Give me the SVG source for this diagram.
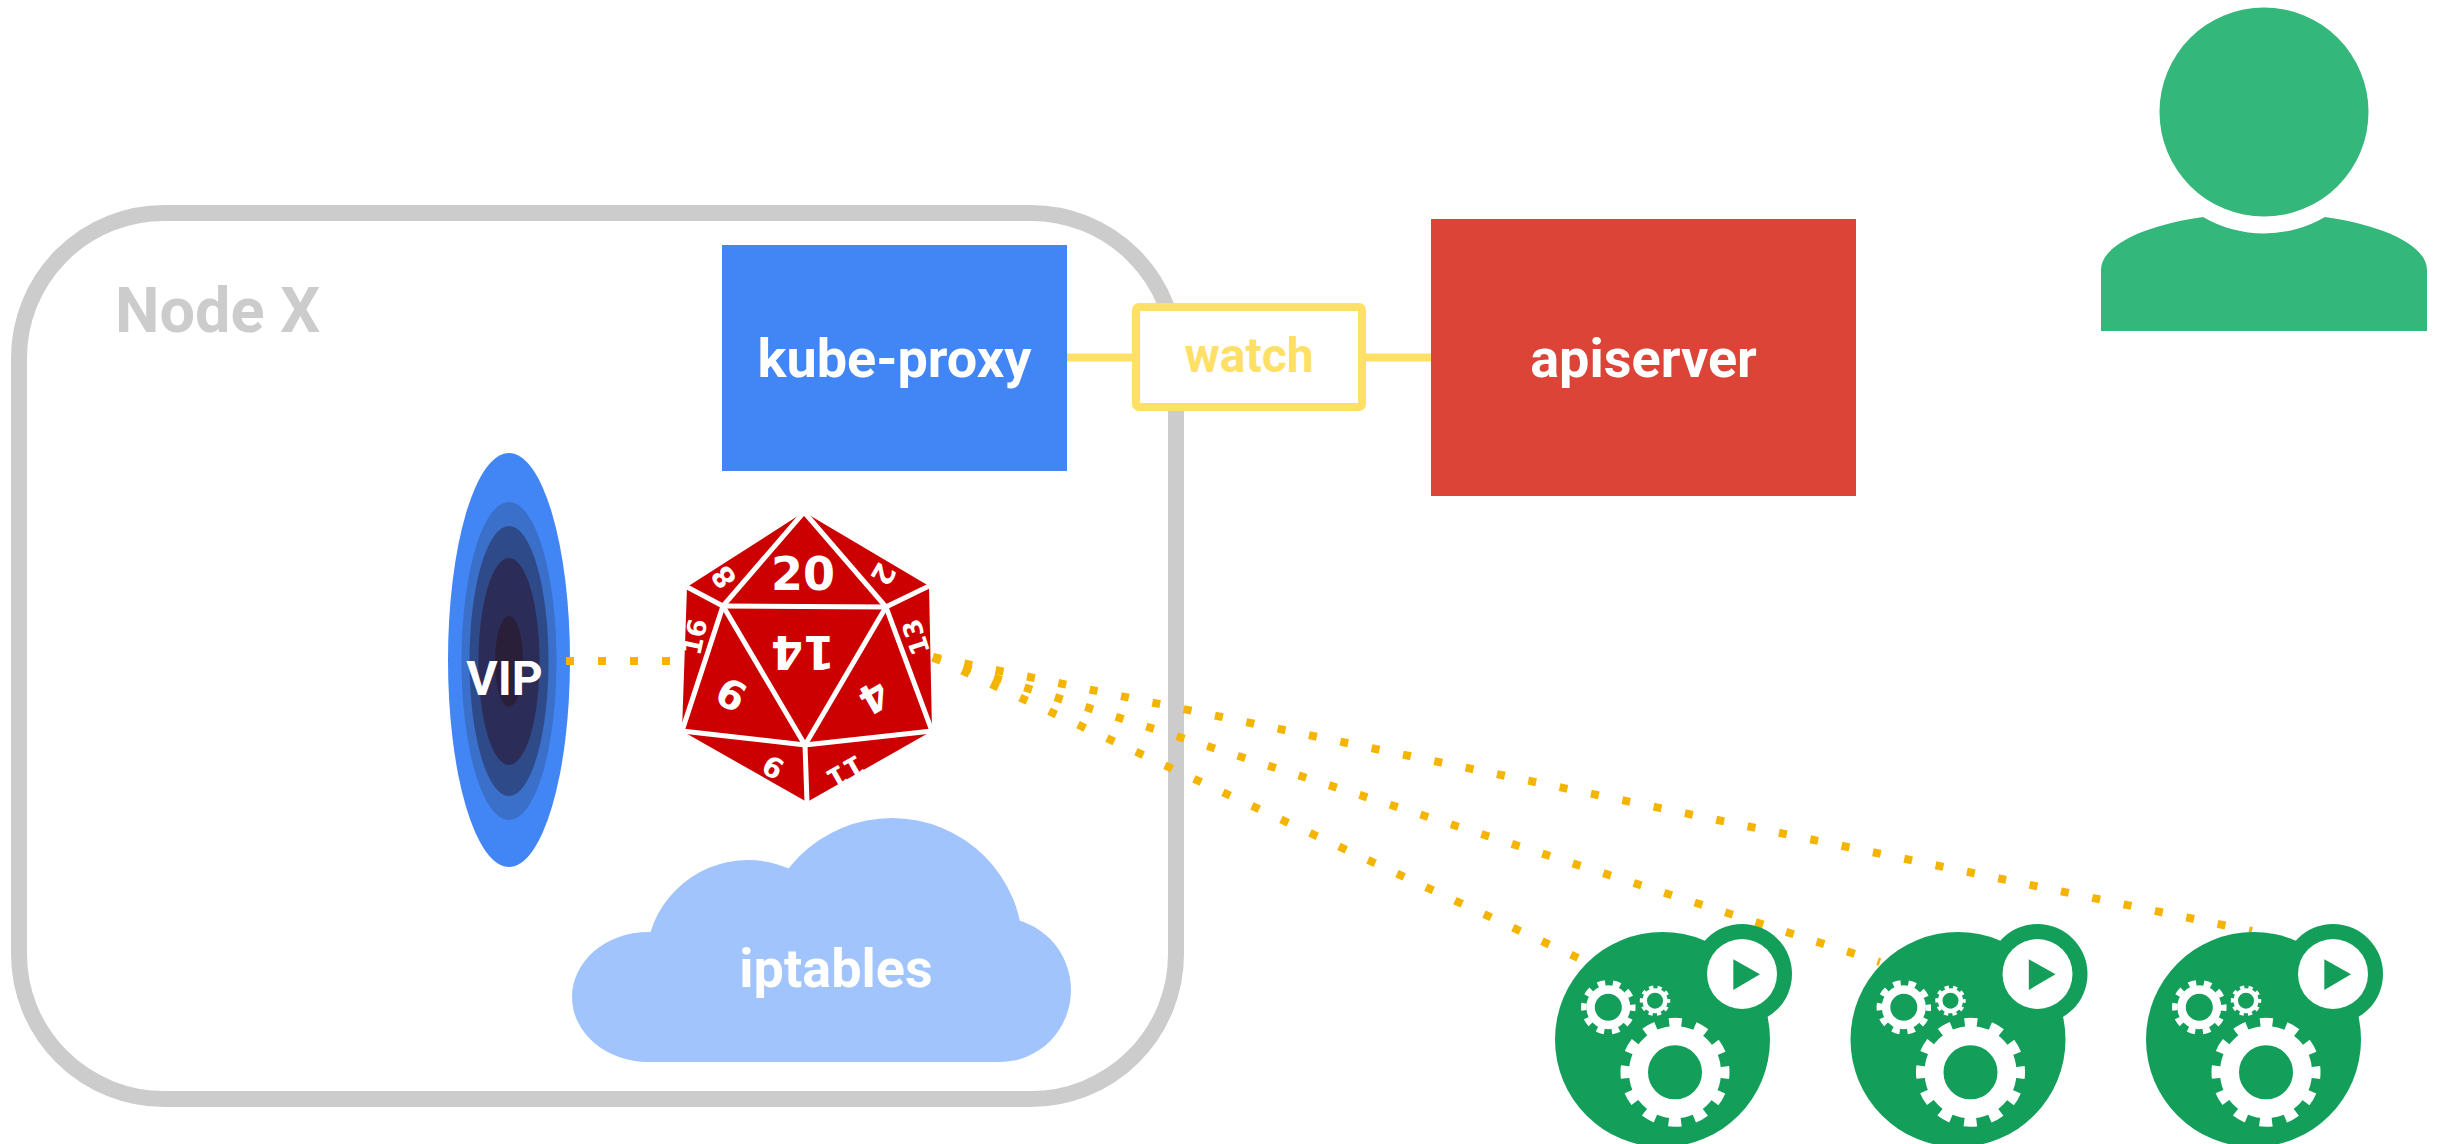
<svg xmlns="http://www.w3.org/2000/svg" width="2449" height="1144" viewBox="0 0 2449 1144">
  <style>
    .label { font-family: Roboto, "Liberation Sans", sans-serif; font-weight: 700; text-anchor: middle; }
    .white { fill: #ffffff; }
    .dots { fill: none; stroke: #f4b400; stroke-width: 8; stroke-dasharray: 8 24; }
    .watchline { fill: none; stroke: #ffe066; stroke-width: 8; }
    .face { stroke: #ffffff; stroke-width: 5; stroke-linecap: square; fill: none; }
    .num { font-family: "DejaVu Sans", sans-serif; font-weight: 700; fill: #ffffff; text-anchor: middle; }
  </style>
  <defs>
    <!-- gears: ring plus dashed circle for teeth -->
    <g id="gearL">
      <circle r="36.5" fill="none" stroke="#fff" stroke-width="19"/>
      <circle r="49.5" fill="none" stroke="#fff" stroke-width="10" stroke-dasharray="12.5 13.418" stroke-dashoffset="6.25"/>
    </g>
    <g id="gearM">
      <circle r="17.75" fill="none" stroke="#fff" stroke-width="8.5"/>
      <circle r="24.5" fill="none" stroke="#fff" stroke-width="5.5" stroke-dasharray="7.5 7.894" stroke-dashoffset="3.75"/>
    </g>
    <g id="gearS">
      <circle r="10.25" fill="none" stroke="#fff" stroke-width="4.5"/>
      <circle r="13.6" fill="none" stroke="#fff" stroke-width="3.2" stroke-dasharray="4.3 4.245" stroke-dashoffset="2.15"/>
    </g>
    <!-- pod icon, centred on its body -->
    <g id="pod">
      <circle r="107.5" fill="#139f5a"/>
      <circle cx="79.5" cy="-65.5" r="50" fill="#139f5a"/>
      <circle cx="79.5" cy="-65.5" r="35" fill="#ffffff"/>
      <polygon points="70.8,-80.2 70.8,-49.5 97.5,-65.2" fill="#139f5a"/>
      <use href="#gearL" x="12.5" y="32.8"/>
      <use href="#gearM" x="-54.2" y="-32.2"/>
      <use href="#gearS" x="-7.5" y="-38.8"/>
    </g>
    <!-- flat base of the cloud -->
    <clipPath id="cloudBase">
      <rect x="500" y="780" width="650" height="282"/>
    </clipPath>
  </defs>

  <rect width="2449" height="1144" fill="#ffffff"/>

  <!-- Node X frame -->
  <g id="node-x">
    <rect x="19" y="213" width="1157" height="886" rx="145" ry="145" fill="none" stroke="#cccccc" stroke-width="16"/>
    <text x="115" y="332" font-family="Roboto, 'Liberation Sans', sans-serif" font-weight="700" font-size="63" fill="#cccccc">Node X</text>
  </g>

  <!-- kube-proxy -->
  <g id="kube-proxy">
    <rect x="722" y="245" width="345" height="226" fill="#4285f4"/>
    <text class="label white" x="894.5" y="377" font-size="54">kube-proxy</text>
  </g>

  <!-- apiserver -->
  <g id="apiserver">
    <rect x="1431" y="219" width="425" height="277" fill="#db4437"/>
    <text class="label white" x="1643.5" y="377" font-size="54">apiserver</text>
  </g>

  <!-- user -->
  <g id="user">
    <circle cx="2264" cy="112" r="104.5" fill="#34b77a"/>
    <path d="M 2101,331 L 2101,270 C 2101,243 2152,224 2203,217 A 121,121 0 0 0 2325,217 C 2376,224 2427,243 2427,270 L 2427,331 Z" fill="#34b77a"/>
  </g>

  <!-- VIP portal -->
  <g id="vip">
    <ellipse cx="509" cy="660" rx="61" ry="207" fill="#4286f5"/>
    <ellipse cx="509" cy="661" rx="47.5" ry="159" fill="#3a6fca"/>
    <ellipse cx="509" cy="661" rx="39.5" ry="135" fill="#2f4a88"/>
    <ellipse cx="509" cy="661.5" rx="30.5" ry="103.5" fill="#2b2d58"/>
    <ellipse cx="509" cy="661.5" rx="14" ry="45.5" fill="#291f38"/>
    <text class="label white" x="504.5" y="695" font-size="48">VIP</text>
  </g>

  <!-- connectors -->
  <g id="connectors">
    <line class="watchline" x1="1067" y1="357.5" x2="1136" y2="357.5"/>
    <line class="watchline" x1="1362" y1="357.5" x2="1431" y2="357.5"/>
    <line class="dots" x1="566" y1="661" x2="700" y2="661"/>
    <line class="dots" x1="933" y1="657" x2="2252" y2="931"/>
    <line class="dots" x1="933" y1="658" x2="1880" y2="962"/>
    <line class="dots" x1="933" y1="657" x2="1578" y2="958"/>
  </g>

  <!-- watch label on the kube-proxy / apiserver link -->
  <g id="watch">
    <rect x="1136" y="307" width="226" height="100" rx="3" fill="#ffffff" stroke="#ffe066" stroke-width="8"/>
    <text class="label" x="1249" y="372" font-size="48" fill="#ffe066">watch</text>
  </g>

  <!-- d20 load balancer -->
  <g id="dice">
    <polygon points="804,512 929,586 932,731 807,802 682,731 687,587" fill="#cc0000"/>
    <g class="face">
      <line x1="804" y1="512" x2="723" y2="606"/>
      <line x1="804" y1="512" x2="886" y2="607"/>
      <line x1="723" y1="606" x2="886" y2="607"/>
      <line x1="687" y1="587" x2="723" y2="606"/>
      <line x1="929" y1="586" x2="886" y2="607"/>
      <line x1="723" y1="606" x2="682" y2="731"/>
      <line x1="723" y1="606" x2="805" y2="745"/>
      <line x1="886" y1="607" x2="805" y2="745"/>
      <line x1="886" y1="607" x2="932" y2="731"/>
      <line x1="682" y1="731" x2="805" y2="745"/>
      <line x1="932" y1="731" x2="805" y2="745"/>
      <line x1="805" y1="745" x2="807" y2="802"/>
    </g>
    <text class="num" x="803" y="590" font-size="46">20</text>
    <text class="num" font-size="46" transform="translate(803,653) rotate(180)" y="17">14</text>
    <text class="num" font-size="29" transform="translate(724,577) rotate(-125)" y="10">8</text>
    <text class="num" font-size="29" transform="translate(883,574) rotate(120)" y="10">2</text>
    <text class="num" font-size="26" transform="translate(695,637) rotate(-78)" y="9">16</text>
    <text class="num" font-size="26" transform="translate(916,637) rotate(-108)" y="9">13</text>
    <text class="num" font-size="40" transform="translate(731,695) rotate(28)" y="14">6</text>
    <text class="num" font-size="40" transform="translate(874,697) rotate(150)" y="14">4</text>
    <text class="num" font-size="28" transform="translate(773,767) rotate(-150)" y="10">9</text>
    <text class="num" font-size="28" transform="translate(846,772) rotate(150)" y="10">11</text>
  </g>

  <!-- iptables cloud -->
  <g id="iptables">
    <g fill="#a1c4fd" clip-path="url(#cloudBase)">
      <ellipse cx="648" cy="997" rx="76" ry="65"/>
      <circle cx="748" cy="962" r="102"/>
      <circle cx="892" cy="949" r="131"/>
      <ellipse cx="1000" cy="990" rx="71" ry="72"/>
      <rect x="646" y="940" width="354" height="122"/>
    </g>
    <text class="label white" x="836" y="987" font-size="54">iptables</text>
  </g>

  <!-- backend pods -->
  <g id="pod-1"><use href="#pod" x="1662.5" y="1039.5"/></g>
  <g id="pod-2"><use href="#pod" x="1958" y="1039.5"/></g>
  <g id="pod-3"><use href="#pod" x="2253.5" y="1039.5"/></g>
</svg>
